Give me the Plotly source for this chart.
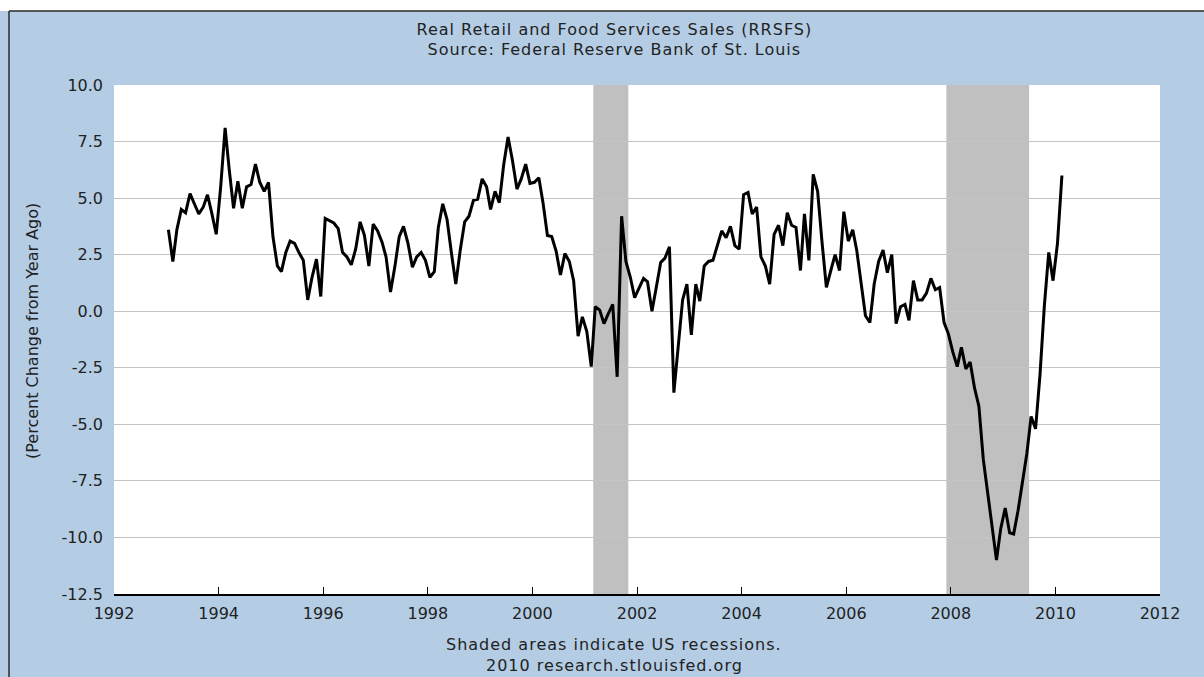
import pandas as pd
import plotly.graph_objects as go

# Monthly year-over-year % change, Jan 1993 - Feb 2010
start_month = "1993-01-01"
rrsfs_pct = [
    3.6, 2.2, 3.6, 4.5, 4.35, 5.2, 4.75, 4.3, 4.6, 5.15, 4.3, 3.4,
    5.5, 8.1, 6.3, 4.55, 5.75, 4.55, 5.5, 5.6, 6.5, 5.7, 5.3, 5.7,
    3.3, 2.0, 1.75, 2.6, 3.1, 3.0, 2.6, 2.25, 0.5, 1.5, 2.3, 0.65,
    4.1, 4.0, 3.9, 3.65, 2.6, 2.4, 2.05, 2.75, 3.95, 3.35, 2.0, 3.85,
    3.55, 3.05, 2.4, 0.85, 1.95, 3.3, 3.75, 3.0, 1.95, 2.4, 2.6, 2.25,
    1.5, 1.75, 3.7, 4.75, 4.05, 2.55, 1.2, 2.7, 3.95, 4.2, 4.9, 4.95,
    5.85, 5.5, 4.5, 5.3, 4.8, 6.5, 7.7, 6.65, 5.4, 5.85, 6.5, 5.65,
    5.7, 5.9, 4.8, 3.35, 3.3, 2.65, 1.6, 2.55, 2.2, 1.35, -1.1, -0.25,
    -0.9, -2.45, 0.2, 0.05, -0.55, -0.1, 0.3, -2.9, 4.2, 2.2, 1.5, 0.6,
    1.05, 1.45, 1.3, 0.0, 1.05, 2.15, 2.35, 2.85, -3.6, -1.4, 0.5, 1.2,
    -1.05, 1.2, 0.45, 2.0, 2.2, 2.25, 2.9, 3.55, 3.25, 3.75, 2.9, 2.75,
    5.15, 5.25, 4.3, 4.6, 2.4, 2.0, 1.2, 3.4, 3.8, 2.9, 4.35, 3.8,
    3.7, 1.8, 4.3, 2.25, 6.05, 5.3, 3.1, 1.05, 1.8, 2.5, 1.8, 4.4,
    3.1, 3.6, 2.7, 1.3, -0.2, -0.5, 1.2, 2.2, 2.7, 1.7, 2.5, -0.55,
    0.2, 0.3, -0.4, 1.35, 0.5, 0.5, 0.8, 1.45, 0.95, 1.05, -0.5, -1.0,
    -1.8, -2.45, -1.6, -2.55, -2.25, -3.4, -4.2, -6.55, -8.1, -9.7, -11.0, -9.6,
    -8.7, -9.8, -9.85, -8.8, -7.6, -6.3, -4.65, -5.2, -2.8, 0.2, 2.6, 1.35,
    3.0, 6.0,
]

recession_starts = ["2001-03-01", "2007-12-01"]
recession_ends = ["2001-11-01", "2009-07-01"]

x_tick_years = list(range(1992, 2013, 2))
y_ticks = [10.0, 7.5, 5.0, 2.5, 0.0, -2.5, -5.0, -7.5, -10.0, -12.5]

title_lines = ["Real Retail and Food Services Sales (RRSFS)",
               "Source: Federal Reserve Bank of St. Louis"]
footer_lines = ["Shaded areas indicate US recessions.",
                "2010 research.stlouisfed.org"]
y_title = "(Percent Change from Year Ago)"

dates = pd.date_range(start_month, periods=len(rrsfs_pct), freq="MS") + pd.Timedelta(days=14)

BG = "#B4CDE5"
TXT = "#222222"
FONT = "DejaVu Sans"

fig = go.Figure()
fig.add_trace(go.Scatter(x=dates, y=rrsfs_pct, mode="lines",
                         line=dict(color="black", width=3),
                         hoverinfo="x+y", showlegend=False))

shapes = []
for s, e in zip(recession_starts, recession_ends):
    shapes.append(dict(type="rect", xref="x", yref="paper", x0=s, x1=e, y0=0, y1=1,
                       fillcolor="#C0C0C0", line=dict(width=0), layer="between"))

# plot area in px: left 114, right 1160, top 85, bottom 594
L, R, T, B = 114, 1160, 85, 594
W, H = R - L, B - T
def px(xp):
    return (xp - L) / W
def py(yp):
    return (B - yp) / H

# white strip at the top and dark frame lines
shapes.append(dict(type="rect", xref="paper", yref="paper", x0=px(-5), x1=px(1210),
                   y0=py(11), y1=py(-5), fillcolor="white", line=dict(width=0), layer="below"))
shapes.append(dict(type="line", xref="paper", yref="paper", x0=px(9), x1=px(1210),
                   y0=py(11), y1=py(11), line=dict(color="#2a2a2a", width=1.5)))
shapes.append(dict(type="line", xref="paper", yref="paper", x0=px(9), x1=px(9),
                   y0=py(11), y1=py(690), line=dict(color="#2a2a2a", width=1.5)))

annotations = []
for txt, yp in zip(title_lines, [29, 50]):
    annotations.append(dict(text=txt, xref="paper", yref="paper", x=px(614), y=py(yp),
                            xanchor="center", yanchor="middle", showarrow=False,
                            font=dict(family=FONT, size=16, color=TXT)))
for txt, yp in zip(footer_lines, [645, 665]):
    annotations.append(dict(text=txt, xref="paper", yref="paper", x=px(614), y=py(yp),
                            xanchor="center", yanchor="middle", showarrow=False,
                            font=dict(family=FONT, size=16, color=TXT)))
annotations.append(dict(text=y_title, xref="paper", yref="paper", x=px(32), y=py(331),
                        xanchor="center", yanchor="middle", showarrow=False, textangle=-90,
                        font=dict(family=FONT, size=16, color=TXT)))

fig.update_layout(
    width=1204, height=677,
    margin=dict(l=L, r=1204 - R, t=T, b=677 - B, pad=0),
    paper_bgcolor=BG, plot_bgcolor="white",
    font=dict(family=FONT, size=16, color=TXT),
    shapes=shapes, annotations=annotations,
    xaxis=dict(type="date", range=["1992-01-01", "2012-01-01"],
               tickvals=[f"{y}-01-01" for y in x_tick_years],
               ticktext=[str(y) for y in x_tick_years],
               ticks="inside", ticklen=7, tickcolor="black", tickwidth=1,
               showline=True, linecolor="black", linewidth=1.5,
               showgrid=False, zeroline=False, ticklabelstandoff=4,
               tickfont=dict(family=FONT, size=16, color=TXT)),
    yaxis=dict(range=[-12.5, 10], tickvals=y_ticks,
               ticktext=[f"{v:.1f}" for v in y_ticks],
               showgrid=True, gridcolor="#C4C4C4", gridwidth=1.2,
               zeroline=False, showline=False, ticks="",
               ticklabelstandoff=10,
               tickfont=dict(family=FONT, size=16, color=TXT)),
)

post = """
document.body.style.margin = '0px';
document.body.style.background = '#B4CDE5';
document.querySelectorAll('text.annotation-text').forEach(function(t){
  if (t.textContent.indexOf('Percent') < 0) { t.style.letterSpacing = '1px'; }
});
"""

fig.write_html("out.html", post_script=post, config={"displayModeBar": False})
